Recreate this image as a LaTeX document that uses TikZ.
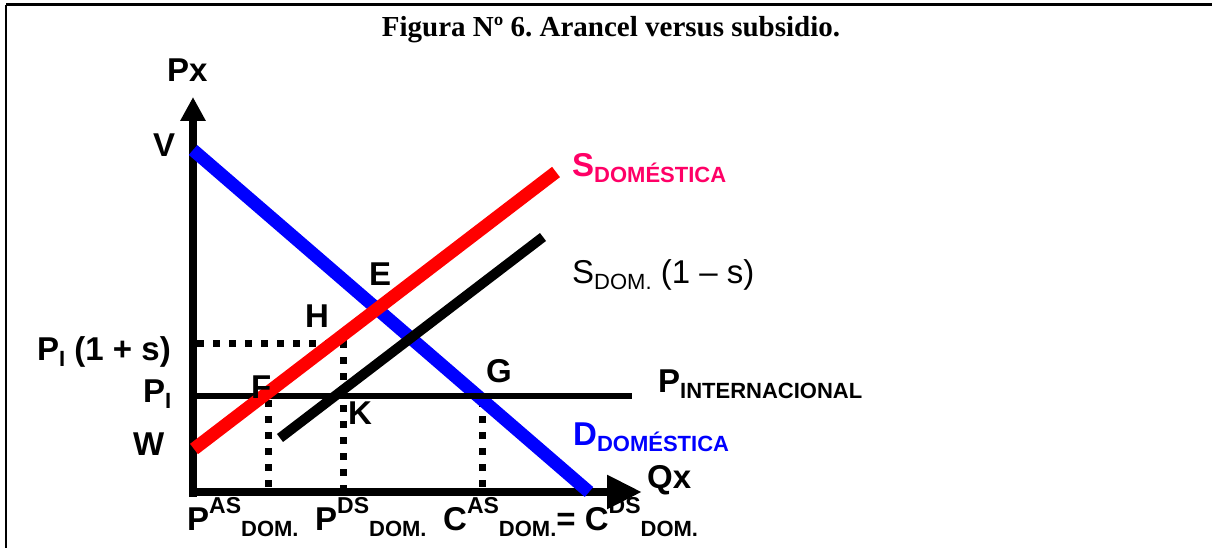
\documentclass[tikz,border=0pt]{standalone}
\usepackage{fontspec}
\setmainfont{Liberation Sans}
\newfontfamily\titlefont{Liberation Serif}
\usetikzlibrary{arrows.meta, positioning}
\usepackage{xcolor}
\definecolor{supRed}{RGB}{255,0,0}
\definecolor{demBlue}{RGB}{0,0,255}
\definecolor{supPink}{RGB}{255,0,102}
\newcommand\sbs[1]{\raisebox{-6pt}{\fontsize{22}{22}\selectfont #1}}
\newcommand\sps[1]{\raisebox{17pt}{\fontsize{23}{23}\selectfont #1}}
\frenchspacing

\begin{document}
\begin{tikzpicture}[
    x=1pt, y=-1pt,
    lbl/.style={
        anchor=base west,
        inner sep=0pt,
        font=\bfseries\fontsize{33}{36}\selectfont
    },
    lblPlain/.style={
        anchor=base west,
        inner sep=0pt,
        font=\fontsize{33}{36}\selectfont
    },
    axisLine/.style={line width=8.5pt},
    dotLine/.style={line width=7pt, dash pattern=on 7pt off 9pt},
    curveRed/.style={line width=13pt, draw=supRed},
    curveBlue/.style={line width=13pt, draw=demBlue},
    curveBlack/.style={line width=10pt},
    priceLine/.style={line width=6.5pt}
]
\useasboundingbox (0,0) rectangle (1212,548);

% Frame
\draw[line width=3pt] (6,5) -- (1212,5);
\draw[line width=2pt] (6,5) -- (6,548);

% Title
\node[anchor=base, inner sep=0pt, font=\titlefont\bfseries\fontsize{29}{32}\selectfont] (title) at (611,37) {Figura Nº 6. Arancel versus subsidio.};

% Points
\coordinate (ybot) at (193,497);
\coordinate (ytop) at (193,97);
\coordinate (xleft) at (189,492);
\coordinate (xright) at (642,492);
\coordinate (V) at (193,150);
\coordinate (Dend) at (589,492);
\coordinate (W) at (194,449);
\coordinate (Send) at (556,172);
\coordinate (Sbeg) at (280,438);
\coordinate (SSend) at (543,237);
\coordinate (PIl) at (197,396);
\coordinate (PIr) at (632,396);
\coordinate (Hl) at (197,343);
\coordinate (H) at (343,343);
\coordinate (Kb) at (343,488);
\coordinate (F) at (268,400);
\coordinate (Fb) at (268,488);
\coordinate (G) at (482,400);
\coordinate (Gb) at (482,488);

% Dotted guides
\draw[dotLine] (Hl) -- (H) -- (Kb);
\draw[dotLine] (F) -- (Fb);
\draw[dotLine] (G) -- (Gb);

% Axes
\draw[axisLine, -{Triangle[length=24pt, width=24pt]}] (ybot) -- (ytop);
\draw[axisLine, -{Triangle[length=35pt, width=32pt]}] (xleft) -- (xright);

% Curves
\draw[curveBlue] (V) -- (Dend);
\draw[priceLine] (PIl) -- (PIr);
\draw[curveBlack] (Sbeg) -- (SSend);
\draw[curveRed] (W) -- (Send);

% Axis labels
\node[lbl] (px) at (167,82) {Px};
\node[lbl] (qx) at (647,488) {Qx};
\node[lbl] (v) at (153,157) {V};
\node[lbl] (w) at (133,455) {W};
\node[lbl] (pis) at (37,360) {P\sbs{I} (1 + s)};
\node[lbl] (pi) at (143,402) {P\sbs{I}};

% Point labels
\node[lbl] (e) at (369,285) {E};
\node[lbl] (h) at (305,327) {H};
\node[lbl] (f) at (251,398) {F};
\node[lbl] (g) at (486,382) {G};
\node[lbl] (k) at (348,424) {K};

% Curve labels
\node[lbl, text=supPink] (sdom) at (572,177) {S\sbs{DOMÉSTICA}};
\node[lblPlain] (ssub) at (572,283) {S\sbs{DOM.} (1 – s)};
\node[lbl] (pint) at (658,392) {P\sbs{INTERNACIONAL}};
\node[lbl, text=demBlue] (ddom) at (573,445) {D\sbs{DOMÉSTICA}};

% Quantities
\node[lbl] (pas) at (187,530) {P\sps{AS}\sbs{DOM.}};
\node[lbl] (pds) at (315,530) {P\sps{DS}\sbs{DOM.}};
\node[lbl] (cas) at (443,530) {C\sps{AS}\sbs{DOM.}= C\sps{DS}\sbs{DOM.}};

\end{tikzpicture}
\end{document}
